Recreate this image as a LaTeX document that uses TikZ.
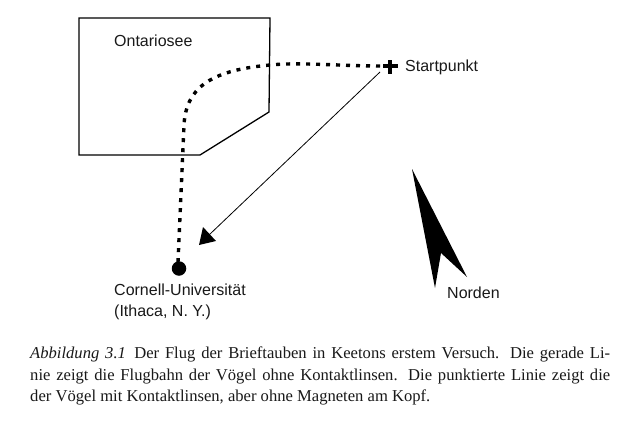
\documentclass[tikz,border=0pt]{standalone}
\usepackage{fontspec}
\setmainfont{Liberation Serif}
\newfontfamily\lsans{Liberation Sans}
\tikzset{
  lab/.style={font=\lsans\fontsize{16}{18}\selectfont,anchor=base west,inner sep=0pt,text=black!90},
  captext/.style={font=\fontsize{16.6}{19}\selectfont,anchor=base west,inner sep=0pt,text=black!90},
  dotpath/.style={line width=3.4pt,dash pattern=on 4pt off 6pt},
}
\begin{document}
\begin{tikzpicture}[x=1pt,y=-1pt]
\useasboundingbox (0,0) rectangle (640,434);
\fill[white] (0,0) rectangle (640,434);
% lake
\draw[line width=1.3pt,line join=miter] (79,18) -- (270,18) -- (269,112) -- (200,155) -- (79,155) -- cycle;
\node[lab] (lake) at (114,46.5) {Ontariosee};
% endpoints
\coordinate (start) at (390,66);
\node[circle,fill=black,minimum size=14.5pt,inner sep=0pt] (cornell) at (179,268.5) {};
\fill (383,64.4) rectangle (398,68);
\fill (388.3,60) rectangle (392.3,74);
\node[lab] (startlab) at (405,71) {Startpunkt};
% dotted route
\draw[dotpath] (380,66) .. controls (340,66) and (300,62) .. (270,65)
  .. controls (215,70) and (186,85) .. (184,125) -- (178,262);
% straight route
\coordinate (tail) at (380,72);
\coordinate (tip) at (199,245);
\coordinate (hl) at (203,227);
\coordinate (hr) at (216,241);
\draw[line width=0.8pt] (tail) -- (209,235);
\fill (tip) -- (hl) -- (hr) -- cycle;
% labels
\node[lab] (cu) at (114,295.5) {Cornell-Universit\"at};
\node[lab] (ith) at (114,316.5) {(Ithaca, N. Y.)};
% north
\fill (412,169) -- (467,277) -- (441,253) -- (435,288) -- cycle;
\node[lab] (north) at (447,298.5) {Norden};
% caption
\node[captext] (c1) at (30,358.5) {\hbox to 580pt{\textit{Abbildung 3.1}\hspace{0.5em}Der Flug der Brieftauben in Keetons erstem Versuch. Die gerade Li-}};
\node[captext] (c2) at (30,380.5) {\hbox to 580pt{nie zeigt die Flugbahn der V\"ogel ohne Kontaktlinsen. Die punktierte Linie zeigt die}};
\node[captext] (c3) at (30,401.5) {der V\"ogel mit Kontaktlinsen, aber ohne Magneten am Kopf.};
\end{tikzpicture}
\end{document}
